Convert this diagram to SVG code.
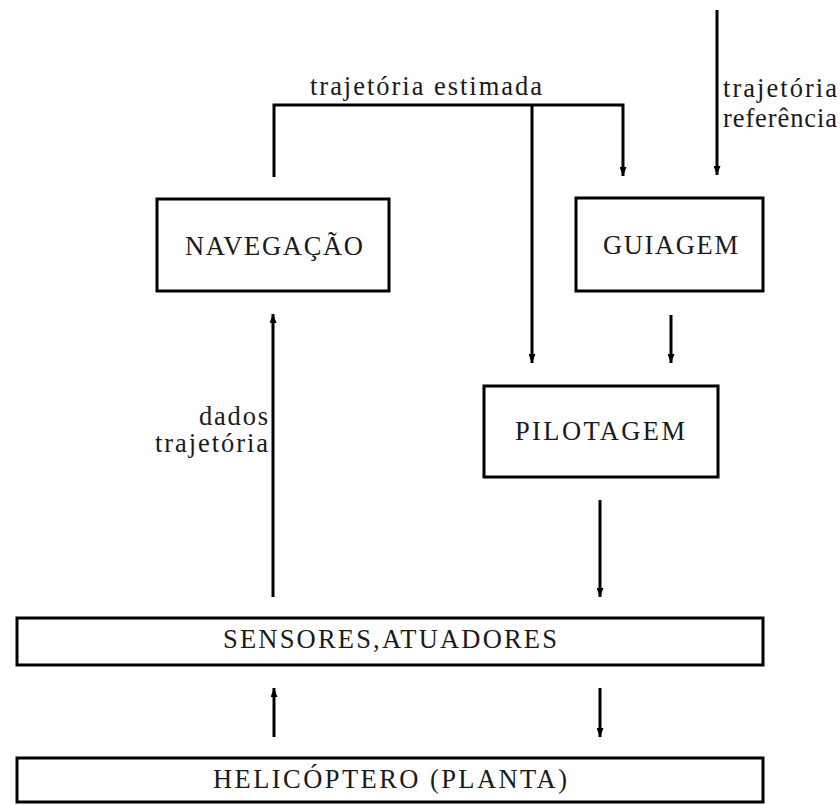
<svg xmlns="http://www.w3.org/2000/svg" width="840" height="805" viewBox="0 0 840 805">
  <style>
    .box { fill: #fff; stroke: #000; stroke-width: 3; }
    .wire { fill: none; stroke: #000; stroke-width: 3; }
    .lbl { font-family: "Liberation Serif", "Times New Roman", serif; font-size: 26.5px; fill: #1a1a1a; }
  </style>
  <defs>
    <marker id="head" markerUnits="userSpaceOnUse" viewBox="0 0 9 7" refX="9" refY="3.5" markerWidth="9" markerHeight="7" orient="auto">
      <path d="M0,0 L9,3.5 L0,7 z" fill="#000"/>
    </marker>
  </defs>
  <rect width="840" height="805" fill="#fff"/>

  <!-- connectors -->
  <g id="connectors">
    <polyline class="wire" points="274,177 274,105 623,105 623,176" marker-end="url(#head)"/>
    <line class="wire" x1="532" y1="105" x2="532" y2="363" marker-end="url(#head)"/>
    <line class="wire" x1="717" y1="10" x2="717" y2="175" marker-end="url(#head)"/>
    <line class="wire" x1="671" y1="315" x2="671" y2="363" marker-end="url(#head)"/>
    <line class="wire" x1="273" y1="597" x2="273" y2="314" marker-end="url(#head)"/>
    <line class="wire" x1="600" y1="500" x2="600" y2="597" marker-end="url(#head)"/>
    <line class="wire" x1="600" y1="688" x2="600" y2="737" marker-end="url(#head)"/>
    <line class="wire" x1="274" y1="737" x2="274" y2="688" marker-end="url(#head)"/>
    <text class="lbl" x="310" y="95" textLength="232" lengthAdjust="spacing">trajetória estimada</text>
    <text class="lbl" x="723" y="97" textLength="114" lengthAdjust="spacing">trajetória</text>
    <text class="lbl" x="723" y="127" textLength="114" lengthAdjust="spacing">referência</text>
    <text class="lbl" x="199" y="425" textLength="69" lengthAdjust="spacing">dados</text>
    <text class="lbl" x="155" y="452" textLength="113" lengthAdjust="spacing">trajetória</text>
  </g>

  <g id="navegacao">
    <rect class="box" x="157" y="199" width="232" height="92"/>
    <text class="lbl" x="185" y="255" textLength="178" lengthAdjust="spacing">NAVEGAÇÃO</text>
  </g>

  <g id="guiagem">
    <rect class="box" x="576" y="198" width="187" height="93"/>
    <text class="lbl" x="603" y="254" textLength="135" lengthAdjust="spacing">GUIAGEM</text>
  </g>

  <g id="pilotagem">
    <rect class="box" x="484" y="386" width="234" height="91"/>
    <text class="lbl" x="515" y="440" textLength="170" lengthAdjust="spacing">PILOTAGEM</text>
  </g>

  <g id="sensores">
    <rect class="box" x="17" y="618" width="746" height="47"/>
    <text class="lbl" x="223" y="648" textLength="334" lengthAdjust="spacing">SENSORES,ATUADORES</text>
  </g>

  <g id="helicoptero">
    <rect class="box" x="17" y="758" width="746" height="44"/>
    <text class="lbl" x="213" y="788" textLength="354" lengthAdjust="spacing">HELICÓPTERO (PLANTA)</text>
  </g>
</svg>
